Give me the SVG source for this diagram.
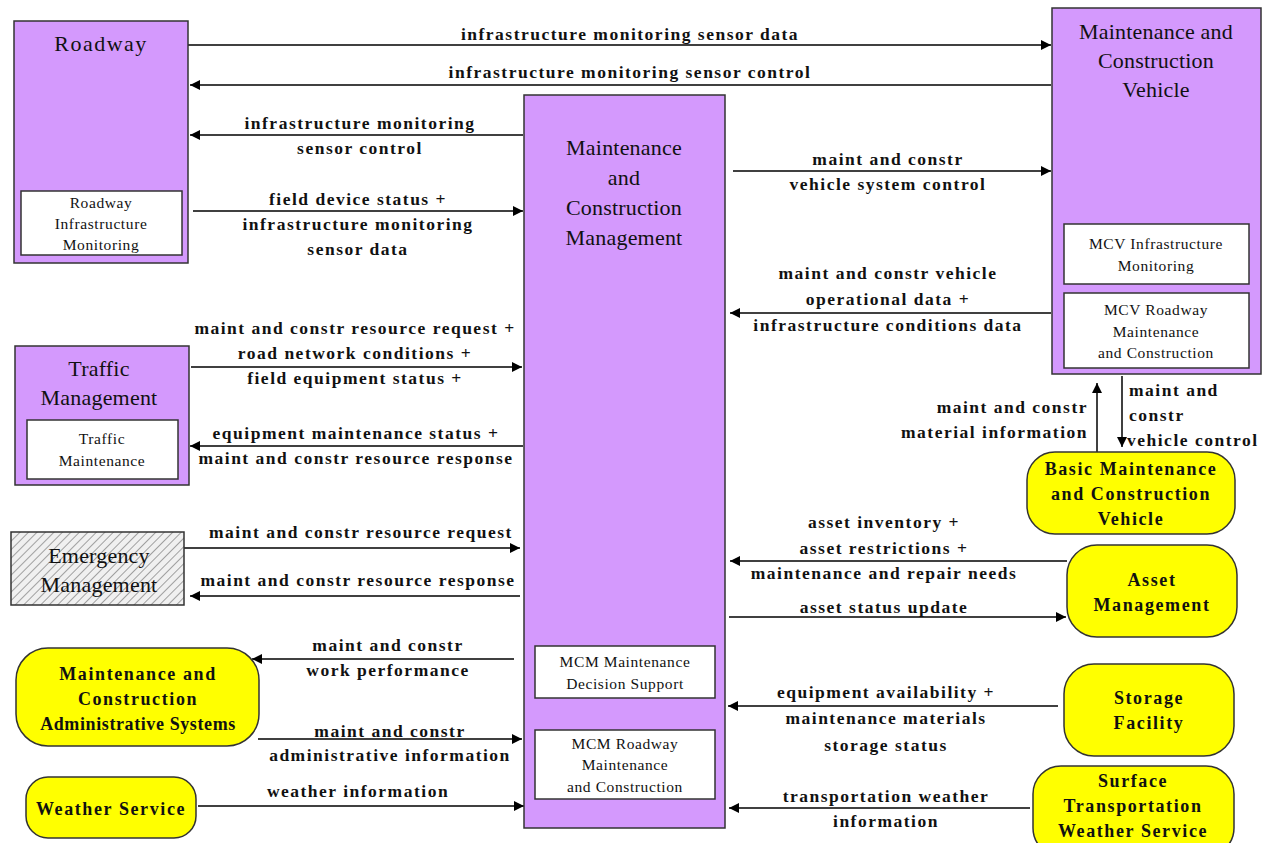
<svg xmlns="http://www.w3.org/2000/svg" width="1270" height="843" viewBox="0 0 1270 843">
<defs>
<marker id="ah" viewBox="0 0 10 10" refX="10" refY="5" markerWidth="10" markerHeight="10" markerUnits="userSpaceOnUse" orient="auto">
<path d="M0,0 L10,5 L0,10 z" fill="#000"/>
</marker>
<pattern id="hatch" width="6" height="6" patternUnits="userSpaceOnUse" patternTransform="rotate(45)">
<rect width="6" height="6" fill="#f0f0f0"/>
<line x1="0" y1="0" x2="0" y2="6" stroke="#a0a0a0" stroke-width="2"/>
</pattern>
<style>
.sub{fill:#d499fd;stroke:#333;stroke-width:1.5}
.ter{fill:#ffff00;stroke:#333;stroke-width:1.5}
.inner{fill:#fff;stroke:#333;stroke-width:1.5}
.t{font-family:"Liberation Serif",serif;font-size:22px;text-anchor:middle;fill:#111;letter-spacing:0.2px}
.tb{font-family:"Liberation Serif",serif;font-size:18px;font-weight:bold;text-anchor:middle;fill:#111;letter-spacing:1.6px}
.i{font-family:"Liberation Serif",serif;font-size:15.5px;text-anchor:middle;fill:#111;letter-spacing:0.6px}
.l{font-family:"Liberation Serif",serif;font-size:17.5px;font-weight:bold;text-anchor:middle;fill:#111;letter-spacing:1.5px}
.c{stroke:#000;stroke-width:1.5;fill:none;marker-end:url(#ah)}
</style>
</defs>
<rect width="1270" height="843" fill="#fff"/>

<g id="connectors">
<line class="c" x1="188" y1="45" x2="1051" y2="45"/>
<text class="l" x="630" y="40">infrastructure monitoring sensor data</text>
<line class="c" x1="1051" y1="85" x2="190" y2="85"/>
<text class="l" x="630" y="78">infrastructure monitoring sensor control</text>
<line class="c" x1="523" y1="135" x2="190" y2="135"/>
<text class="l" x="360" y="129">infrastructure monitoring</text>
<text class="l" x="360" y="154">sensor control</text>
<line class="c" x1="193" y1="211" x2="523" y2="211"/>
<text class="l" x="358" y="205">field device status +</text>
<text class="l" x="358" y="230">infrastructure monitoring</text>
<text class="l" x="358" y="255">sensor data</text>
<line class="c" x1="733" y1="171" x2="1051" y2="171"/>
<text class="l" x="888" y="165">maint and constr</text>
<text class="l" x="888" y="190">vehicle system control</text>
<line class="c" x1="1051" y1="313" x2="730" y2="313"/>
<text class="l" x="888" y="279">maint and constr vehicle</text>
<text class="l" x="888" y="305">operational data +</text>
<text class="l" x="888" y="331">infrastructure conditions data</text>
<line class="c" x1="191" y1="367" x2="522" y2="367"/>
<text class="l" x="355" y="334">maint and constr resource request +</text>
<text class="l" x="355" y="359">road network conditions +</text>
<text class="l" x="355" y="384">field equipment status +</text>
<line class="c" x1="523" y1="446" x2="190" y2="446"/>
<text class="l" x="356" y="439">equipment maintenance status +</text>
<text class="l" x="356" y="464">maint and constr resource response</text>
<line class="c" x1="184" y1="548" x2="520" y2="548"/>
<text class="l" x="361" y="538">maint and constr resource request</text>
<line class="c" x1="520" y1="596" x2="190" y2="596"/>
<text class="l" x="358" y="586">maint and constr resource response</text>
<line class="c" x1="514" y1="659" x2="252" y2="659"/>
<text class="l" x="388" y="651">maint and constr</text>
<text class="l" x="388" y="676">work performance</text>
<line class="c" x1="258" y1="739" x2="522" y2="739"/>
<text class="l" x="390" y="737">maint and constr</text>
<text class="l" x="390" y="761">administrative information</text>
<line class="c" x1="198" y1="806" x2="524" y2="806"/>
<text class="l" x="358" y="797">weather information</text>
<line class="c" x1="1067" y1="561" x2="730" y2="561"/>
<text class="l" x="884" y="528">asset inventory +</text>
<text class="l" x="884" y="554">asset restrictions +</text>
<text class="l" x="884" y="579">maintenance and repair needs</text>
<line class="c" x1="729" y1="617" x2="1066" y2="617"/>
<text class="l" x="884" y="613">asset status update</text>
<line class="c" x1="1058" y1="706" x2="728" y2="706"/>
<text class="l" x="886" y="698">equipment availability +</text>
<text class="l" x="886" y="724">maintenance materials</text>
<text class="l" x="886" y="751">storage status</text>
<line class="c" x1="1030" y1="808" x2="729" y2="808"/>
<text class="l" x="886" y="802">transportation weather</text>
<text class="l" x="886" y="827">information</text>
<line class="c" x1="1097" y1="452" x2="1097" y2="383"/>
<text class="l" x="1088" y="413" style="text-anchor:end">maint and constr</text>
<text class="l" x="1088" y="438" style="text-anchor:end">material information</text>
<line class="c" x1="1122" y1="376" x2="1122" y2="447"/>
<text class="l" x="1129" y="396" style="text-anchor:start">maint and</text>
<text class="l" x="1129" y="421" style="text-anchor:start">constr</text>
<text class="l" x="1127" y="446" style="text-anchor:start">vehicle control</text>
</g>

<g id="roadway">
<rect class="sub" x="14" y="21" width="174" height="242"/>
<text class="t" x="101" y="51" style="letter-spacing:1.5px">Roadway</text>
<rect class="inner" x="21" y="191" width="161" height="64"/>
<text class="i" x="101" y="208">Roadway</text>
<text class="i" x="101" y="229">Infrastructure</text>
<text class="i" x="101" y="250">Monitoring</text>
</g>

<g id="traffic-management">
<rect class="sub" x="15" y="346" width="174" height="139"/>
<text class="t" x="99" y="376">Traffic</text>
<text class="t" x="99" y="405">Management</text>
<rect class="inner" x="27" y="420" width="151" height="59"/>
<text class="i" x="102" y="444">Traffic</text>
<text class="i" x="102" y="466">Maintenance</text>
</g>

<g id="emergency-management">
<rect x="11" y="532" width="173" height="73" fill="url(#hatch)" stroke="#333" stroke-width="1.5"/>
<text class="t" x="99" y="563">Emergency</text>
<text class="t" x="99" y="592">Management</text>
</g>

<g id="mc-admin-systems">
<rect class="ter" x="16" y="648" width="243" height="98" rx="32" ry="32"/>
<text class="tb" x="138" y="680">Maintenance and</text>
<text class="tb" x="138" y="705">Construction</text>
<text class="tb" x="138" y="730" style="letter-spacing:0.6px">Administrative Systems</text>
</g>

<g id="weather-service">
<rect class="ter" x="26" y="777" width="170" height="61" rx="22" ry="22"/>
<text class="tb" x="111" y="815">Weather Service</text>
</g>

<g id="mcm">
<rect class="sub" x="524" y="95" width="201" height="733"/>
<text class="t" x="624" y="155">Maintenance</text>
<text class="t" x="624" y="185">and</text>
<text class="t" x="624" y="215">Construction</text>
<text class="t" x="624" y="245">Management</text>
<rect class="inner" x="535" y="646" width="180" height="52"/>
<text class="i" x="625" y="667">MCM Maintenance</text>
<text class="i" x="625" y="689">Decision Support</text>
<rect class="inner" x="535" y="730" width="180" height="69"/>
<text class="i" x="625" y="749">MCM Roadway</text>
<text class="i" x="625" y="770">Maintenance</text>
<text class="i" x="625" y="792">and Construction</text>
</g>

<g id="mcv">
<rect class="sub" x="1052" y="8" width="209" height="366"/>
<text class="t" x="1156" y="39">Maintenance and</text>
<text class="t" x="1156" y="68">Construction</text>
<text class="t" x="1156" y="97">Vehicle</text>
<rect class="inner" x="1064" y="224" width="185" height="60"/>
<text class="i" x="1156" y="249">MCV Infrastructure</text>
<text class="i" x="1156" y="271">Monitoring</text>
<rect class="inner" x="1064" y="293" width="185" height="75"/>
<text class="i" x="1156" y="315">MCV Roadway</text>
<text class="i" x="1156" y="337">Maintenance</text>
<text class="i" x="1156" y="358">and Construction</text>
</g>

<g id="basic-mcv">
<rect class="ter" x="1027" y="452" width="208" height="82" rx="28" ry="28"/>
<text class="tb" x="1131" y="475">Basic Maintenance</text>
<text class="tb" x="1131" y="500">and Construction</text>
<text class="tb" x="1131" y="525">Vehicle</text>
</g>

<g id="asset-management">
<rect class="ter" x="1067" y="545" width="170" height="92" rx="30" ry="30"/>
<text class="tb" x="1152" y="586">Asset</text>
<text class="tb" x="1152" y="611">Management</text>
</g>

<g id="storage-facility">
<rect class="ter" x="1064" y="664" width="170" height="92" rx="30" ry="30"/>
<text class="tb" x="1149" y="704">Storage</text>
<text class="tb" x="1149" y="729">Facility</text>
</g>

<g id="stws">
<rect class="ter" x="1033" y="766" width="201" height="90" rx="28" ry="28"/>
<text class="tb" x="1133" y="787">Surface</text>
<text class="tb" x="1133" y="812">Transportation</text>
<text class="tb" x="1133" y="837">Weather Service</text>
</g>
</svg>
